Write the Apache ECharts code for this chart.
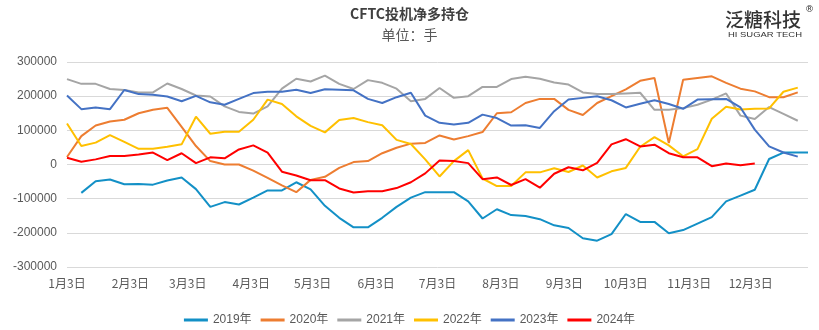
<!DOCTYPE html>
<html>
<head>
<meta charset="utf-8">
<script src="https://cdn.jsdelivr.net/npm/echarts@6/dist/echarts.min.js"></script>
<style>
  html, body { margin: 0; padding: 0; background: #ffffff; }
  #chart { width: 819px; height: 330px; }
</style>
</head>
<body>
<div id="chart"></div>
<script>
// Weekly report dates shared by every year's series (last entry is the year-end point)
const weekDates = [
  '1月3日','1月10日','1月17日','1月24日','1月31日','2月7日','2月14日','2月21日','2月28日',
  '3月7日','3月14日','3月21日','3月28日','4月4日','4月11日','4月18日','4月25日',
  '5月2日','5月9日','5月16日','5月23日','5月30日','6月6日','6月13日','6月20日','6月27日',
  '7月4日','7月11日','7月18日','7月25日','8月1日','8月8日','8月15日','8月22日','8月29日',
  '9月5日','9月12日','9月19日','9月26日','10月3日','10月10日','10月17日','10月24日','10月31日',
  '11月7日','11月14日','11月21日','11月28日','12月5日','12月12日','12月19日','12月26日','12月31日'
];

// Axis tick labels
const axisTickDates = ['1月3日','2月3日','3月3日','4月3日','5月3日','6月3日',
  '7月3日','8月3日','9月3日','10月3日','11月3日','12月3日'];

const seriesNames = ['2019年','2020年','2021年','2022年','2023年','2024年'];

// CFTC speculative net long positions (lots)
const y2019 = [null,-83000,-49000,-44000,-58000,-57000,-59000,-47000,-38000,-72000,
  -124000,-110000,-117000,-97000,-76000,-76000,-52000,-73000,-121000,-156000,
  -184000,-184000,-156000,-124000,-97000,-81000,-81000,-81000,-108000,-158000,
  -131000,-148000,-151000,-160000,-178000,-186000,-216000,-223000,-204000,-145000,
  -168000,-168000,-201000,-192000,-173000,-154000,-108000,-91000,-74000,16000,
  35000,35000,35000];
const y2020 = [22000,83000,114000,126000,131000,150000,160000,166000,110000,54000,
  10000,0,0,-18000,-39000,-61000,-81000,-45000,-36000,-10000,
  7000,10000,33000,49000,61000,63000,85000,73000,83000,95000,
  150000,153000,180000,192000,192000,160000,145000,180000,200000,220000,
  245000,253000,63000,248000,253000,258000,239000,222000,214000,197000,
  197000,211000,null];
const y2021 = [250000,236000,236000,221000,218000,211000,211000,237000,221000,202000,
  199000,170000,154000,149000,170000,222000,251000,243000,260000,236000,
  221000,247000,239000,222000,185000,192000,224000,195000,200000,227000,
  227000,250000,257000,251000,240000,234000,211000,206000,206000,208000,
  210000,160000,160000,165000,175000,190000,208000,143000,133000,168000,
  148000,128000,null];
const y2022 = [120000,54000,64000,86000,66000,46000,46000,52000,59000,140000,
  90000,96000,96000,131000,190000,177000,141000,113000,94000,130000,
  136000,124000,115000,72000,60000,15000,-35000,10000,42000,-41000,
  -63000,-63000,-23000,-23000,-11000,-22000,-3000,-38000,-20000,-10000,
  52000,80000,56000,24000,45000,134000,169000,161000,163000,164000,
  213000,225000,null];
const y2023 = [202000,162000,167000,162000,218000,206000,204000,199000,185000,201000,
  182000,175000,192000,209000,213000,213000,219000,209000,220000,219000,
  217000,192000,180000,197000,210000,143000,122000,117000,122000,146000,
  136000,114000,115000,107000,156000,190000,195000,200000,188000,167000,
  178000,188000,177000,163000,190000,191000,192000,167000,102000,53000,
  35000,23000,null];
const y2024 = [20000,8000,15000,25000,25000,29000,35000,13000,33000,4000,
  21000,18000,44000,56000,35000,-21000,-32000,-46000,-46000,-70000,
  -82000,-78000,-78000,-69000,-52000,-26000,12000,10000,4000,-43000,
  -38000,-60000,-43000,-68000,-27000,-8000,-17000,5000,59000,74000,
  53000,58000,33000,21000,21000,-5000,3000,-2000,3000,null,
  null,null,null];

const yearValues = [y2019, y2020, y2021, y2022, y2023, y2024];
const yearColors = ['#1390C6', '#ED7D31', '#A5A5A5', '#FFC000', '#4472C4', '#FF0000'];

// Convert "M月D日" into days after January 3rd (non-leap calendar)
const monthLen = [31,28,31,30,31,30,31,31,30,31,30,31];
function dayOffset(label) {
  const m = parseInt(label, 10);
  const d = parseInt(label.split('月')[1], 10);
  let n = 0;
  for (let k = 0; k < m - 1; k++) n += monthLen[k];
  return n + d - 3;
}
const weekDays = weekDates.map(dayOffset);
const tickDays = axisTickDates.map(dayOffset);
const tickLabelByDay = {};
tickDays.forEach((d, i) => { tickLabelByDay[d] = axisTickDates[i]; });

function toPairs(values) {
  const out = [];
  values.forEach((v, i) => { if (v !== null) out.push([weekDays[i], v]); });
  return out;
}

// Stretch the small brand caption to its fixed width
const brandSub = 'HI SUGAR TECH';
const brandSubFont = '7.5px "Liberation Sans", Arial, sans-serif';
const brandSubWidth = 74;
const measureCtx = document.createElement('canvas').getContext('2d');
measureCtx.font = brandSubFont;
const brandSubScale = brandSubWidth / measureCtx.measureText(brandSub).width;

const chart = echarts.init(document.getElementById('chart'), null, { renderer: 'canvas' });

const option = {
  animation: false,
  backgroundColor: '#ffffff',
  grid: { left: 67, right: 11, top: 62, bottom: 63, containLabel: false },
  legend: {
    data: seriesNames,
    top: 309,
    left: 'center',
    icon: 'rect',
    itemWidth: 24,
    itemHeight: 3,
    itemGap: 9,
    textStyle: { color: '#595959', fontSize: 12, fontFamily: '"Liberation Sans", "Noto Sans CJK SC", sans-serif' }
  },
  xAxis: {
    type: 'value',
    min: 0,
    max: weekDays[weekDays.length - 1],
    axisLine: { show: false },
    axisTick: { show: false },
    splitLine: { show: false },
    axisLabel: {
      customValues: tickDays,
      formatter: v => tickLabelByDay[v] || '',
      color: '#595959',
      fontSize: 12,
      margin: 10,
      fontFamily: '"Noto Sans CJK SC", sans-serif'
    }
  },
  yAxis: {
    type: 'value',
    min: -300000,
    max: 300000,
    interval: 100000,
    axisLine: { show: false },
    axisTick: { show: false },
    axisLabel: {
      formatter: v => String(v),
      color: '#595959',
      fontSize: 12,
      margin: 10,
      fontFamily: '"Liberation Sans", Arial, sans-serif'
    },
    splitLine: { lineStyle: { color: '#D9D9D9', width: 1 } }
  },
  series: seriesNames.map((name, i) => ({
    name: name,
    type: 'line',
    data: toPairs(yearValues[i]),
    showSymbol: false,
    symbol: 'none',
    color: yearColors[i],
    lineStyle: { color: yearColors[i], width: 2 },
    itemStyle: { color: yearColors[i] }
  })),
  graphic: [
    {
      type: 'text', left: 'center', top: 7,
      style: { text: 'CFTC投机净多持仓', fill: '#404040',
        font: 'bold 14px "Noto Sans CJK SC", sans-serif' }
    },
    {
      type: 'text', left: 'center', top: 28,
      style: { text: '单位：手', fill: '#595959',
        font: '14px "Noto Sans CJK SC", sans-serif' }
    },
    {
      type: 'text', left: 725, top: 10,
      style: { text: '泛糖科技', fill: '#333333',
        font: '500 19px "Noto Sans CJK SC", sans-serif' }
    },
    {
      type: 'text', left: 805, top: 5,
      style: { text: '®', fill: '#333333',
        font: '9px "DejaVu Sans", sans-serif' }
    },
    {
      type: 'text', x: 728, y: 31, scaleX: brandSubScale,
      style: { text: brandSub, fill: '#333333', font: brandSubFont }
    }
  ]
};

chart.setOption(option);
</script>
</body>
</html>
